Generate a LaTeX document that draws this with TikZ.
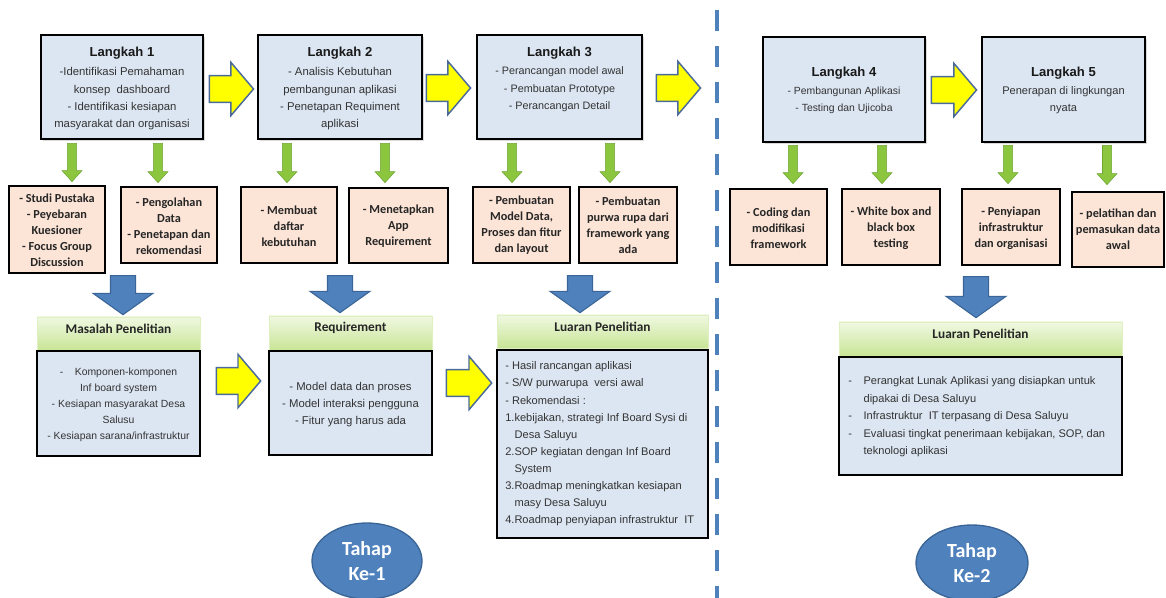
\documentclass[tikz,border=0pt]{standalone}
\usepackage{fontspec}
\setmainfont{Liberation Sans}
\newfontfamily\calib{Carlito}
\usetikzlibrary{fit,calc,shadows,shapes.geometric}
\definecolor{boxblue}{HTML}{DCE6F2}
\definecolor{peach}{HTML}{FCE4D6}
\definecolor{arrowgreen}{HTML}{8CC63F}
\definecolor{arrowgreenD}{HTML}{6EA535}
\definecolor{bblue}{HTML}{4F81BD}
\definecolor{bblueD}{HTML}{3A6596}
\definecolor{ylw}{HTML}{FFFF00}
\definecolor{ylwD}{HTML}{4A6A9C}
\definecolor{hdtop}{HTML}{F0F8E2}
\definecolor{hdbot}{HTML}{C8E596}
\definecolor{txt}{HTML}{333333}

\newcommand\harrow[2]{%
  \draw[yarrow] let \p1=(#1), \p2=(#2) in
    (\x1,\y1+10pt) -- (\x2-17pt,\y1+10pt) -- (\x2-17pt,\y1+20pt) -- (\x2,\y1)
    -- (\x2-17pt,\y1-20pt) -- (\x2-17pt,\y1-10pt) -- (\x1,\y1-10pt) -- cycle;}
\newcommand\varrow[6]{%
  \draw[#1] let \p1=(#2), \p2=(#3) in
    (\x1-#4,\y1) -- (\x1-#4,\y2+#6) -- (\x1-#5,\y2+#6) -- (\x1,\y2)
    -- (\x1+#5,\y2+#6) -- (\x1+#4,\y2+#6) -- (\x1+#4,\y1) -- cycle;}
\newcommand\garr[2]{\varrow{garrow}{#1}{#2}{3.4pt}{7.5pt}{8.3pt}}
\newcommand\barr[2]{\varrow{barrow}{#1}{#2}{9.4pt}{22.5pt}{16pt}}

\begin{document}
\begin{tikzpicture}[x=0.75pt,y=-0.75pt,
  topbox/.style={draw=black, line width=2.2pt, fill=boxblue, inner sep=0pt,
     drop shadow={shadow xshift=1.5pt, shadow yshift=-1.5pt, opacity=0.3}},
  smallbox/.style={draw=black, line width=2pt, fill=peach, inner sep=0pt},
  contbox/.style={draw=black, line width=2pt, fill=boxblue, inner sep=0pt},
  hdbox/.style={draw=hdbot!60!white, line width=0.5pt, top color=hdtop, bottom color=hdbot, inner sep=0pt,
     font=\calib\bfseries\fontsize{10}{12}\selectfont, text=black!85},
  yarrow/.style={fill=ylw, draw=ylwD, line width=1.1pt, line join=miter},
  garrow/.style={fill=arrowgreen, draw=arrowgreenD, line width=0.4pt},
  barrow/.style={fill=bblue, draw=bblueD, line width=0.8pt},
  ttl/.style={inner sep=0pt, text=black!90, font=\bfseries\fontsize{9.8}{12}\selectfont},
  body/.style={inner sep=0pt, align=center, text=txt, font=\fontsize{8.5}{13}\selectfont},
  small/.style={inner sep=0pt, align=center, text=black!85, font=\calib\bfseries\fontsize{9.2}{12}\selectfont},
  ctext/.style={inner sep=0pt, align=center, text=txt},
  ell/.style={ellipse, fill=bblue, draw=bblueD, line width=1pt, text=white, align=center, inner sep=0pt,
     font=\calib\bfseries\fontsize{15}{18.75}\selectfont},
  dashline/.style={draw=bblue, line width=3pt, dash pattern=on 16pt off 11pt}
]
\useasboundingbox (0,0) rectangle (1166,598);

% divider
\draw[dashline] (717,10) -- (717,598);

% top step boxes
\node[topbox, fit={(41,35) (203,139)}] (L1) {};
\node[topbox, fit={(258,35) (422,139)}] (L2) {};
\node[topbox, fit={(477,35) (642,139)}] (L3) {};
\node[topbox, fit={(763,37) (925,142)}] (L4) {};
\node[topbox, fit={(982,37) (1145,142)}] (L5) {};

\node[ttl] (t1) at (122,53) {Langkah 1};
\node[body] (b1) at (122,99) {-Identifikasi Pemahaman\\konsep\ \ dashboard\\- Identifikasi kesiapan\\masyarakat dan organisasi};
\node[ttl] (t2) at (340,53) {Langkah 2};
\node[body] (b2) at (340,99) {- Analisis Kebutuhan\\pembangunan aplikasi\\- Penetapan Requiment\\aplikasi};
\node[ttl] (t3) at (559.5,53) {Langkah 3};
\node[body, font=\fontsize{8.1}{13}\selectfont] (b3) at (559.5,89.5) {- Perancangan model awal\\- Pembuatan Prototype\\- Perancangan Detail};
\node[ttl] (t4) at (844,73) {Langkah 4};
\node[body, font=\fontsize{7.8}{12.75}\selectfont] (b4) at (844,100.5) {- Pembangunan Aplikasi\\- Testing dan Ujicoba};
\node[ttl] (t5) at (1063.5,73) {Langkah 5};
\node[body, font=\fontsize{8.3}{12.75}\selectfont] (b5) at (1063.5,100.5) {Penerapan di lingkungan\\nyata};

% small boxes
\node[smallbox, fit={(9,186) (105,273)}] (Sa) {};
\node[smallbox, fit={(121,187) (217,263)}] (Sb) {};
\node[smallbox, fit={(241,187) (337,263)}] (Sc) {};
\node[smallbox, fit={(349,188) (448,263)}] (Sd) {};
\node[smallbox, fit={(473,187) (570,263)}] (Se) {};
\node[smallbox, fit={(579,187) (677,263)}] (Sf) {};
\node[smallbox, fit={(730,189) (827,265)}] (Sg) {};
\node[smallbox, fit={(842,189) (940,265)}] (Sh) {};
\node[smallbox, fit={(962,189) (1060,265)}] (Si) {};
\node[smallbox, fit={(1072,192) (1164,267)}] (Sj) {};

\node[small] (sa) at (57,230) {- Studi Pustaka\\- Peyebaran\\Kuesioner\\- Focus Group\\Discussion};
\node[small] (sb) at (169,226) {- Pengolahan\\Data\\- Penetapan dan\\rekomendasi};
\node[small] (sc) at (289,226) {- Membuat\\daftar\\kebutuhan};
\node[small] (sd) at (398.5,226) {- Menetapkan\\App\\Requirement};
\node[small] (se) at (521.5,225) {- Pembuatan\\Model Data,\\Proses dan fitur\\dan layout};
\node[small] (sf) at (628,225) {- Pembuatan\\purwa rupa dari\\framework yang\\ada};
\node[small] (sg) at (778.5,228) {- Coding dan\\modifikasi\\framework};
\node[small] (sh) at (891,228) {- White box and\\black box\\testing};
\node[small] (si) at (1011,228) {- Penyiapan\\infrastruktur\\dan organisasi};
\node[small] (sj) at (1118,229) {- pelatihan dan\\pemasukan data\\awal};

% headers and content boxes
\node[hdbox, fit={(37,317) (200,350)}] (H1) {Masalah Penelitian};
\node[hdbox, fit={(269,316) (432,350)}] (H2) {Requirement};
\node[hdbox, fit={(497,315) (708,348)}] (H3) {Luaran Penelitian};
\node[hdbox, fit={(839,322) (1122,356)}] (H4) {Luaran Penelitian};

\node[contbox, fit={(37,351) (200,456)}] (C1) {};
\node[contbox, fit={(269,351) (432,455)}] (C2) {};
\node[contbox, fit={(497,350) (708,538)}] (C3) {};
\node[contbox, fit={(839,357) (1122,475)}] (C4) {};

\node[ctext, font=\fontsize{7.8}{12}\selectfont] (c1t) at (118.5,404.5)
  {-\ \ \ \ Komponen-komponen\\Inf board system\\- Kesiapan masyarakat Desa\\Salusu\\- Kesiapan sarana/infrastruktur};
\node[ctext, font=\fontsize{8.5}{12.75}\selectfont] (c2t) at (350.5,405)
  {- Model data dan proses\\- Model interaksi pengguna\\- Fitur yang harus ada};
\node[ctext, align=left, anchor=west, font=\fontsize{8.3}{12.83}\selectfont] (c3t) at (505,444)
  {- Hasil rancangan aplikasi\\- S/W purwarupa\ \ versi awal\\- Rekomendasi :\\1.kebijakan, strategi Inf Board Sysi di\\\hspace*{7pt}Desa Saluyu\\2.SOP kegiatan dengan Inf Board\\\hspace*{7pt}System\\3.Roadmap meningkatkan kesiapan\\\hspace*{7pt}masy Desa Saluyu\\4.Roadmap penyiapan infrastruktur\ \ IT};
\node[ctext, align=left, anchor=west, font=\fontsize{8.3}{13.1}\selectfont] (c4t) at (848,417)
  {\makebox[11.5pt][l]{-}Perangkat Lunak Aplikasi yang disiapkan untuk\\\hspace*{11.5pt}dipakai di Desa Saluyu\\\makebox[11.5pt][l]{-}Infrastruktur\ \ IT terpasang di Desa Saluyu\\\makebox[11.5pt][l]{-}Evaluasi tingkat penerimaan kebijakan, SOP, dan\\\hspace*{11.5pt}teknologi aplikasi};

% yellow block arrows
\harrow{$(L1.east)+(5,2)$}{$(L2.west)+(-3,2)$}
\harrow{$(L2.east)+(3,1)$}{$(L3.west)+(-5,1)$}
\harrow{$(L3.east)+(13,1)$}{$(L4.west)+(-61,1)$}
\harrow{$(L4.east)+(5,0.5)$}{$(L5.west)+(-4,0.5)$}
\harrow{$(C1.east)+(15,-22.5)$}{$(C2.west)+(-7,-22.5)$}
\harrow{$(C2.east)+(13,-20)$}{$(C3.west)+(-4,-20)$}

% green down arrows
\garr{$(L1.south)+(-50,3)$}{$(Sa.north)+(0,-3)$}
\garr{$(L1.south)+(36,3)$}{$(Sb.north)+(0,-3)$}
\garr{$(L2.south)+(-53,3)$}{$(Sc.north)+(0,-3)$}
\garr{$(L2.south)+(45,3)$}{$(Sd.north)+(0,-4)$}
\garr{$(L3.south)+(-47.5,3)$}{$(Se.north)+(0,-3)$}
\garr{$(L3.south)+(50.5,3)$}{$(Sf.north)+(0,-3)$}
\garr{$(L4.south)+(-51,2)$}{$(Sg.north)+(0,-4)$}
\garr{$(L4.south)+(38,2)$}{$(Sh.north)+(0,-4)$}
\garr{$(L5.south)+(-55.5,2)$}{$(Si.north)+(0,-4)$}
\garr{$(L5.south)+(43.5,2)$}{$(Sj.north)+(0,-6)$}

% blue down arrows
\barr{$(H1.north)+(4.5,-41)$}{$(H1.north)+(0,-2)$}
\barr{$(H2.north)+(-10.5,-40)$}{$(H2.north)+(0,-3)$}
\barr{$(H3.north)+(-22.5,-39)$}{$(H3.north)+(0,-2)$}
\barr{$(H4.north)+(-4.5,-45)$}{$(H4.north)+(0,-4)$}

% phase ellipses
\node[ell, minimum width=82.5pt, minimum height=57pt] (E1) at (367,561) {Tahap\\Ke-1};
\node[ell, minimum width=84pt, minimum height=57pt] (E2) at (972,563) {Tahap\\Ke-2};
\end{tikzpicture}
\end{document}
